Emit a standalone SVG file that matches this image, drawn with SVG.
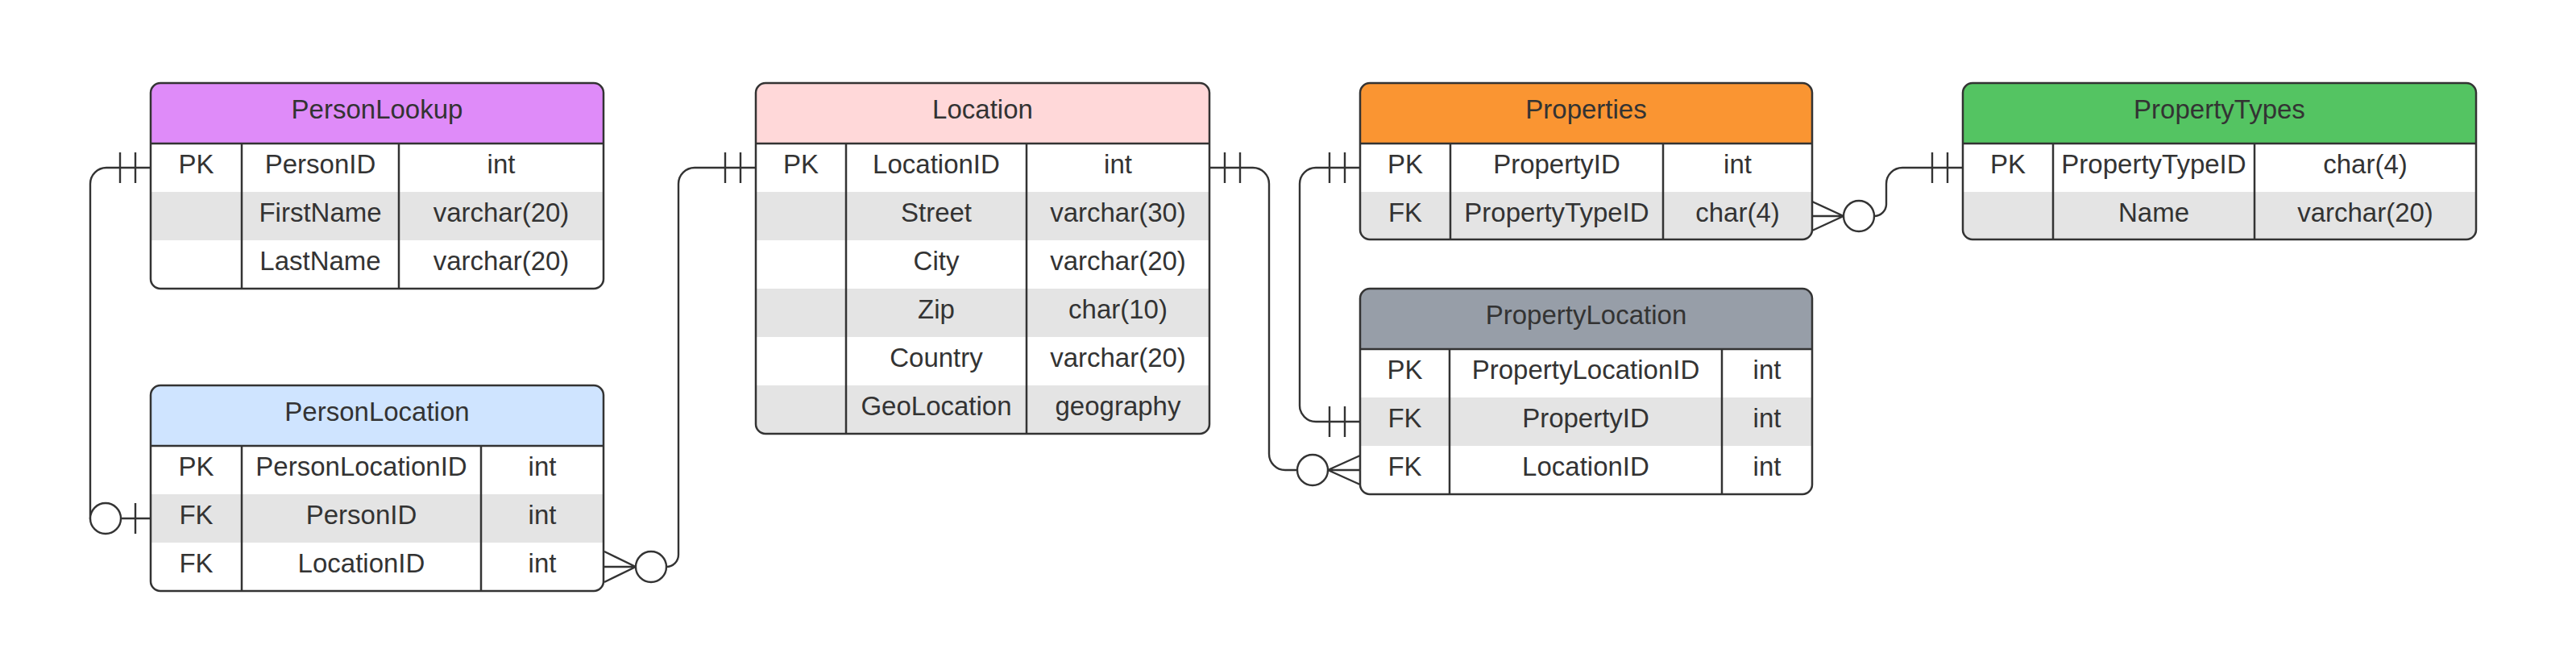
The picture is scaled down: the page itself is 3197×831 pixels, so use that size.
<svg xmlns="http://www.w3.org/2000/svg" width="3197" height="831" viewBox="0 0 3197 831">
<style>
.t{font-family:"Liberation Sans",Arial,sans-serif;font-size:33px;fill:#333;text-anchor:middle}
.ol{fill:none;stroke:#333;stroke-width:2.5}
.gl{stroke:#333;stroke-width:2.5}
.alt{fill:#e4e4e4}
.bg{fill:#fff}
.conn{fill:none;stroke:#333;stroke-width:2.4}
.circ{fill:#fff;stroke:#333;stroke-width:2.4}
</style>
<defs>
<clipPath id="cp1"><rect x="187" y="103" width="562" height="255" rx="12"/></clipPath>
<clipPath id="cp2"><rect x="187" y="478" width="562" height="255" rx="12"/></clipPath>
<clipPath id="cp3"><rect x="938" y="103" width="563" height="435" rx="12"/></clipPath>
<clipPath id="cp4"><rect x="1688" y="103" width="561" height="194" rx="12"/></clipPath>
<clipPath id="cp5"><rect x="1688" y="358" width="561" height="255" rx="12"/></clipPath>
<clipPath id="cp6"><rect x="2436" y="103" width="637" height="194" rx="12"/></clipPath>
</defs>
<rect width="3197" height="831" fill="#fff"/>

<g id="PersonLookup">
<g clip-path="url(#cp1)">
<rect class="bg" x="187" y="103" width="562" height="255"/>
<rect x="187" y="103" width="562" height="75" fill="#df8bf9"/>
<rect class="alt" x="187" y="238" width="562" height="60"/>
</g>
<line class="gl" x1="187" y1="178" x2="749" y2="178"/>
<line class="gl" x1="300" y1="178" x2="300" y2="358"/>
<line class="gl" x1="495" y1="178" x2="495" y2="358"/>
<rect class="ol" x="187" y="103" width="562" height="255" rx="12"/>
<text class="t" x="468" y="147">PersonLookup</text>
<text class="t" x="243.5" y="215">PK</text><text class="t" x="397.5" y="215">PersonID</text><text class="t" x="622" y="215">int</text>
<text class="t" x="397.5" y="275">FirstName</text><text class="t" x="622" y="275">varchar(20)</text>
<text class="t" x="397.5" y="335">LastName</text><text class="t" x="622" y="335">varchar(20)</text>
</g>

<g id="PersonLocation">
<g clip-path="url(#cp2)">
<rect class="bg" x="187" y="478" width="562" height="255"/>
<rect x="187" y="478" width="562" height="75" fill="#cfe4ff"/>
<rect class="alt" x="187" y="613" width="562" height="60"/>
</g>
<line class="gl" x1="187" y1="553" x2="749" y2="553"/>
<line class="gl" x1="300" y1="553" x2="300" y2="733"/>
<line class="gl" x1="597" y1="553" x2="597" y2="733"/>
<rect class="ol" x="187" y="478" width="562" height="255" rx="12"/>
<text class="t" x="468" y="522">PersonLocation</text>
<text class="t" x="243.5" y="590">PK</text><text class="t" x="448.5" y="590">PersonLocationID</text><text class="t" x="673" y="590">int</text>
<text class="t" x="243.5" y="650">FK</text><text class="t" x="448.5" y="650">PersonID</text><text class="t" x="673" y="650">int</text>
<text class="t" x="243.5" y="710">FK</text><text class="t" x="448.5" y="710">LocationID</text><text class="t" x="673" y="710">int</text>
</g>

<g id="Location">
<g clip-path="url(#cp3)">
<rect class="bg" x="938" y="103" width="563" height="435"/>
<rect x="938" y="103" width="563" height="75" fill="#ffd8d9"/>
<rect class="alt" x="938" y="238" width="563" height="60"/>
<rect class="alt" x="938" y="358" width="563" height="60"/>
<rect class="alt" x="938" y="478" width="563" height="60"/>
</g>
<line class="gl" x1="938" y1="178" x2="1501" y2="178"/>
<line class="gl" x1="1050" y1="178" x2="1050" y2="538"/>
<line class="gl" x1="1274" y1="178" x2="1274" y2="538"/>
<rect class="ol" x="938" y="103" width="563" height="435" rx="12"/>
<text class="t" x="1219.5" y="147">Location</text>
<text class="t" x="994" y="215">PK</text><text class="t" x="1162" y="215">LocationID</text><text class="t" x="1387.5" y="215">int</text>
<text class="t" x="1162" y="275">Street</text><text class="t" x="1387.5" y="275">varchar(30)</text>
<text class="t" x="1162" y="335">City</text><text class="t" x="1387.5" y="335">varchar(20)</text>
<text class="t" x="1162" y="395">Zip</text><text class="t" x="1387.5" y="395">char(10)</text>
<text class="t" x="1162" y="455">Country</text><text class="t" x="1387.5" y="455">varchar(20)</text>
<text class="t" x="1162" y="515">GeoLocation</text><text class="t" x="1387.5" y="515">geography</text>
</g>

<g id="Properties">
<g clip-path="url(#cp4)">
<rect class="bg" x="1688" y="103" width="561" height="194"/>
<rect x="1688" y="103" width="561" height="75" fill="#fa9532"/>
<rect class="alt" x="1688" y="238" width="561" height="59"/>
</g>
<line class="gl" x1="1688" y1="178" x2="2249" y2="178"/>
<line class="gl" x1="1800" y1="178" x2="1800" y2="297"/>
<line class="gl" x1="2064" y1="178" x2="2064" y2="297"/>
<rect class="ol" x="1688" y="103" width="561" height="194" rx="12"/>
<text class="t" x="1968.5" y="147">Properties</text>
<text class="t" x="1744" y="215">PK</text><text class="t" x="1932" y="215">PropertyID</text><text class="t" x="2156.5" y="215">int</text>
<text class="t" x="1744" y="275">FK</text><text class="t" x="1932" y="275">PropertyTypeID</text><text class="t" x="2156.5" y="275">char(4)</text>
</g>

<g id="PropertyLocation">
<g clip-path="url(#cp5)">
<rect class="bg" x="1688" y="358" width="561" height="255"/>
<rect x="1688" y="358" width="561" height="75" fill="#979ea8"/>
<rect class="alt" x="1688" y="493" width="561" height="60"/>
</g>
<line class="gl" x1="1688" y1="433" x2="2249" y2="433"/>
<line class="gl" x1="1799" y1="433" x2="1799" y2="613"/>
<line class="gl" x1="2137" y1="433" x2="2137" y2="613"/>
<rect class="ol" x="1688" y="358" width="561" height="255" rx="12"/>
<text class="t" x="1968.5" y="402">PropertyLocation</text>
<text class="t" x="1743.5" y="470">PK</text><text class="t" x="1968" y="470">PropertyLocationID</text><text class="t" x="2193" y="470">int</text>
<text class="t" x="1743.5" y="530">FK</text><text class="t" x="1968" y="530">PropertyID</text><text class="t" x="2193" y="530">int</text>
<text class="t" x="1743.5" y="590">FK</text><text class="t" x="1968" y="590">LocationID</text><text class="t" x="2193" y="590">int</text>
</g>

<g id="PropertyTypes">
<g clip-path="url(#cp6)">
<rect class="bg" x="2436" y="103" width="637" height="194"/>
<rect x="2436" y="103" width="637" height="75" fill="#54c462"/>
<rect class="alt" x="2436" y="238" width="637" height="59"/>
</g>
<line class="gl" x1="2436" y1="178" x2="3073" y2="178"/>
<line class="gl" x1="2548" y1="178" x2="2548" y2="297"/>
<line class="gl" x1="2798" y1="178" x2="2798" y2="297"/>
<rect class="ol" x="2436" y="103" width="637" height="194" rx="12"/>
<text class="t" x="2754.5" y="147">PropertyTypes</text>
<text class="t" x="2492" y="215">PK</text><text class="t" x="2673" y="215">PropertyTypeID</text><text class="t" x="2935.5" y="215">char(4)</text>
<text class="t" x="2673" y="275">Name</text><text class="t" x="2935.5" y="275">varchar(20)</text>
</g>

<g id="connectors">
<g id="c-personlookup-personlocation">
<path class="conn" d="M187,208 H132 A20,20 0 0 0 112,228 V643 H187"/>
<path class="conn" d="M149,189 V227 M168,189 V227 M168,624 V662"/>
<circle class="circ" cx="131" cy="643" r="19"/>
</g>
<g id="c-personlocation-location">
<path class="conn" d="M750,684 L789,703 M750,703 H789 M750,722 L789,703"/>
<path class="conn" d="M827,703 A15,15 0 0 0 842,688 V228 A20,20 0 0 1 862,208 H938"/>
<path class="conn" d="M900,189 V227 M919,189 V227"/>
<circle class="circ" cx="808" cy="703" r="19"/>
</g>
<g id="c-location-propertylocation">
<path class="conn" d="M1501,208 H1555 A20,20 0 0 1 1575,228 V563 A20,20 0 0 0 1595,583 H1610"/>
<path class="conn" d="M1520,189 V227 M1539,189 V227"/>
<path class="conn" d="M1688,565 L1648,583 M1688,583 H1648 M1688,601 L1648,583"/>
<circle class="circ" cx="1629" cy="583" r="19"/>
</g>
<g id="c-properties-propertylocation">
<path class="conn" d="M1688,208 H1633 A20,20 0 0 0 1613,228 V503 A20,20 0 0 0 1633,523 H1688"/>
<path class="conn" d="M1650,189 V227 M1669,189 V227 M1650,504 V542 M1669,504 V542"/>
</g>
<g id="c-properties-propertytypes">
<path class="conn" d="M2249,250 L2288,268 M2249,268 H2288 M2249,286 L2288,268"/>
<path class="conn" d="M2326,268 A15,15 0 0 0 2341,253 V228 A20,20 0 0 1 2361,208 H2436"/>
<path class="conn" d="M2398,189 V227 M2417,189 V227"/>
<circle class="circ" cx="2307" cy="268" r="19"/>
</g>
</g>
</svg>
